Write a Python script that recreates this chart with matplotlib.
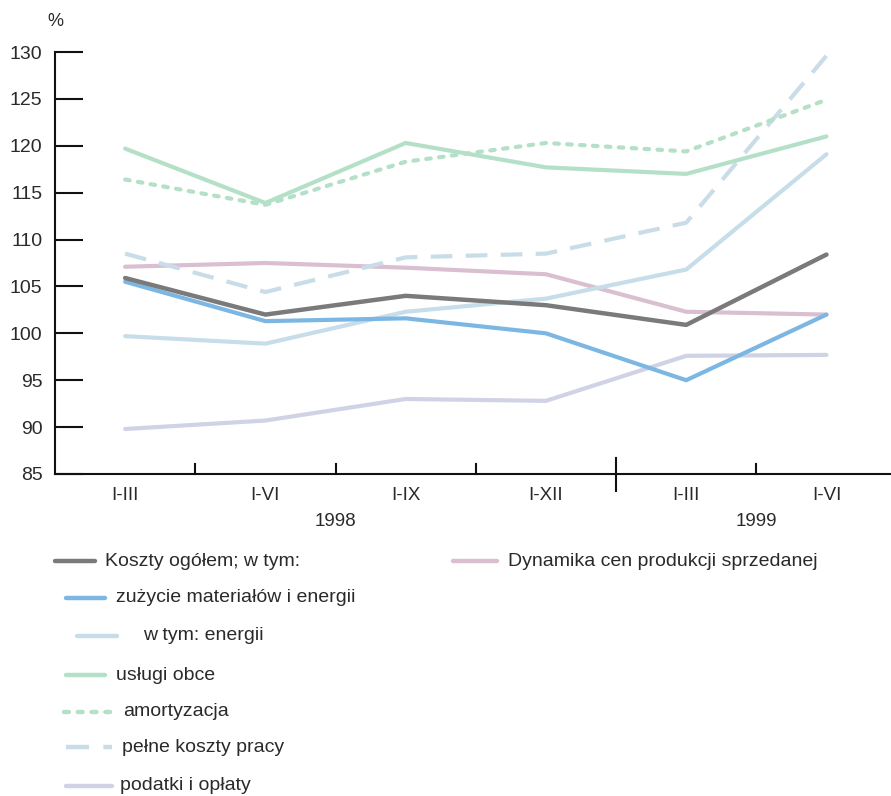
import matplotlib
matplotlib.use("Agg")
import matplotlib.pyplot as plt
from matplotlib.lines import Line2D

plt.rcParams['font.family'] = ['Liberation Sans', 'DejaVu Sans']

# Periods and years
periods = ["I-III", "I-VI", "I-IX", "I-XII", "I-III", "I-VI"]
years = ["1998", "1999"]
y_ticks = [85, 90, 95, 100, 105, 110, 115, 120, 125, 130]

# Index values (%)
koszty_ogolem = [105.9, 102.0, 104.0, 103.0, 100.9, 108.4]
zuzycie_materialow = [105.5, 101.3, 101.6, 100.0, 95.0, 102.0]
energia = [99.7, 98.9, 102.3, 103.7, 106.8, 119.1]
uslugi_obce = [119.7, 113.9, 120.3, 117.7, 117.0, 121.0]
amortyzacja = [116.4, 113.7, 118.3, 120.3, 119.4, 124.9]
koszty_pracy = [108.5, 104.4, 108.1, 108.5, 111.8, 129.6]
podatki_oplaty = [89.8, 90.7, 93.0, 92.8, 97.6, 97.7]
dynamika_cen = [107.1, 107.5, 107.0, 106.3, 102.3, 102.0]

W, H = 891, 796
fig = plt.figure(figsize=(W / 100, H / 100), dpi=100)
ax = fig.add_axes([55 / W, 1 - 474 / H, 1 - 55 / W, (474 - 52) / H])

TEXT = "#2a2a2a"
DOTS = (0, (1.1, 2.0))
DASHES = (0, (5.2, 3.2))

x = list(range(len(periods)))
series = [
    (podatki_oplaty, dict(color="#d0d3e6", lw=3.0, ls="-")),
    (dynamika_cen, dict(color="#d9bfcf", lw=3.0, ls="-")),
    (energia, dict(color="#c7dde9", lw=3.0, ls="-")),
    (koszty_pracy, dict(color="#c9dde9", lw=3.0, ls=DASHES)),
    (uslugi_obce, dict(color="#b5e0c8", lw=3.0, ls="-")),
    (amortyzacja, dict(color="#b5e0c8", lw=3.0, ls=DOTS, dash_capstyle="round")),
    (zuzycie_materialow, dict(color="#7cb7e3", lw=3.0, ls="-")),
    (koszty_ogolem, dict(color="#7a7a7a", lw=3.2, ls="-")),
]
for vals, st in series:
    ax.plot(x, vals, solid_capstyle="round", **st)

ax.set_xlim(-0.5, 5.46)
ax.set_ylim(85, 130)
for s in ["top", "right"]:
    ax.spines[s].set_visible(False)
for s in ["left", "bottom"]:
    ax.spines[s].set_linewidth(1.5)
    ax.spines[s].set_color("#111111")

ax.set_yticks(y_ticks)
ax.set_yticklabels([str(v) for v in y_ticks], fontsize=14, color=TEXT)
ax.tick_params(axis="y", direction="in", length=20, width=1.5, pad=9, color="#111111")

# Category labels under the axis
ax.set_xticks(x)
ax.set_xticklabels(periods, fontsize=13.5, color=TEXT)
ax.tick_params(axis="x", length=0, pad=9)

# Small separators between periods and the year divider
for xm in [0.5, 1.5, 2.5, 4.5]:
    ax.plot([xm, xm], [85, 86.1], color="#111111", lw=1.5, clip_on=False)
ax.plot([3.5, 3.5], [86.7, 83.2], color="#111111", lw=1.5, clip_on=False)

for yr, xc in zip(years, [1.5, 4.5]):
    ax.text(xc, 79.9, yr, ha="center", va="center", fontsize=13.5, color=TEXT)

fig.text(55 / W, 1 - 22 / H, "%", ha="center", va="center", fontsize=13, color=TEXT)

# Legend drawn in figure pixel space
def fx(px):
    return px / W

def fy(py):
    return 1 - py / H

legend_labels = [
    "Koszty ogółem; w tym:",
    "zużycie materiałów i energii",
    "w tym: energii",
    "usługi obce",
    "amortyzacja",
    "pełne koszty pracy",
    "podatki i opłaty",
    "Dynamika cen produkcji sprzedanej",
]
legend_styles = [
    dict(color="#7a7a7a", ls="-"),
    dict(color="#7cb7e3", ls="-"),
    dict(color="#c7dde9", ls="-"),
    dict(color="#b5e0c8", ls="-"),
    dict(color="#b5e0c8", ls=DOTS, dash_capstyle="round"),
    dict(color="#c9dde9", ls=DASHES),
    dict(color="#d0d3e6", ls="-"),
    dict(color="#d9bfcf", ls="-"),
]
legend_pos = [
    (55, 95, 105, 561),
    (66, 105, 116, 598),
    (77, 117, 143, 636),
    (66, 105, 116, 675),
    (64, 110, 123, 712),
    (66, 112, 122, 747),
    (66, 112, 120, 786),
    (453, 497, 508, 561),
]
for lab, st, (x0, x1, tx, yy) in zip(legend_labels, legend_styles, legend_pos):
    fig.add_artist(Line2D([fx(x0), fx(x1)], [fy(yy), fy(yy)], transform=fig.transFigure,
                          lw=3.2, solid_capstyle="round", **st))
    fig.text(fx(tx), fy(yy), lab, ha="left", va="center", fontsize=14, color=TEXT)

fig.savefig("out.png", dpi=100)
